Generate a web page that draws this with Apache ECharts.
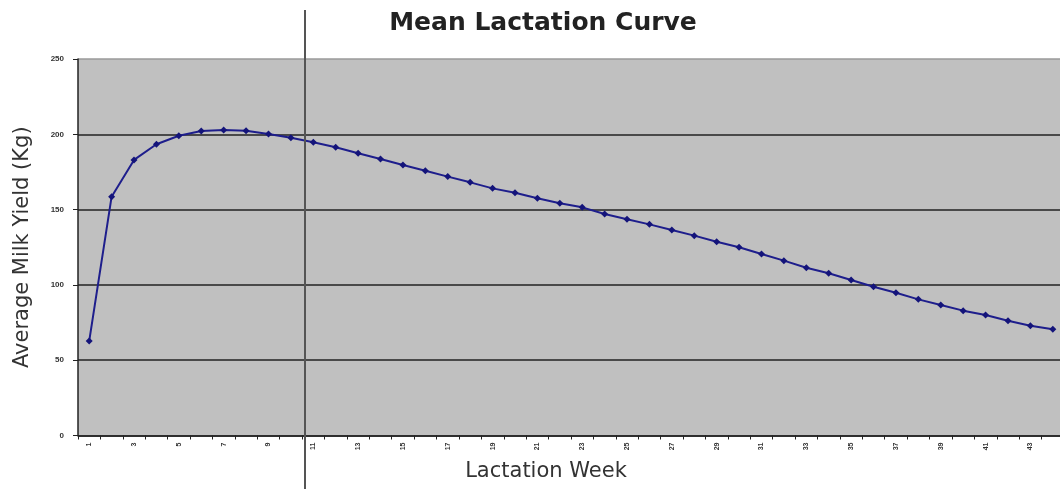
<!DOCTYPE html>
<html>
<head>
<meta charset="utf-8">
<script src="https://cdn.jsdelivr.net/npm/echarts@6/dist/echarts.min.js"></script>
<style>
  html, body { margin: 0; padding: 0; background: #fff; }
  #chart { width: 1060px; height: 489px; }
</style>
</head>
<body>
<div id="chart"></div>
<script>
// lactation weeks 1..44
var weeks = [];
for (var w = 1; w <= 44; w++) weeks.push(String(w));

// mean milk yield per week (Kg)
var milkYield = [
  62.7, 158.6, 183.0, 193.4, 199.0, 202.2, 202.9, 202.4, 200.2, 197.7,
  194.7, 191.4, 187.4, 183.6, 179.6, 175.8, 171.9, 168.1, 164.1, 161.2,
  157.5, 154.2, 151.5, 147.1, 143.6, 140.2, 136.5, 132.7, 128.7, 125.0,
  120.5, 116.1, 111.4, 107.7, 103.3, 98.8, 94.8, 90.4, 86.7, 82.9,
  80.0, 76.2, 72.9, 70.5
];

var yTicks = [0, 50, 100, 150, 200, 250];

var chart = echarts.init(document.getElementById('chart'));

var option = {
  animation: false,
  title: {
    text: 'Mean Lactation Curve',
    left: 538,
    top: 6,
    textAlign: 'center',
    textStyle: { fontFamily: 'DejaVu Sans', fontWeight: 'bold', fontSize: 25, color: '#222' }
  },
  grid: {
    left: 78, right: -4, top: 59, bottom: 53.5,
    outerBoundsMode: 'none',
    containLabel: false,
    show: true,
    backgroundColor: '#c0c0c0',
    borderWidth: 0
  },
  xAxis: {
    type: 'category',
    data: weeks,
    boundaryGap: true,
    name: 'Lactation Week',
    nameLocation: 'middle',
    nameGap: 26,
    nameTextStyle: { fontFamily: 'DejaVu Sans', fontSize: 21, color: '#333', padding: [0, 0, 0, -50] },
    axisLine: { lineStyle: { color: '#222', width: 1.5 } },
    axisTick: { show: true, length: 4, interval: 0, lineStyle: { color: '#222' } },
    axisLabel: {
      interval: 1,
      rotate: 90,
      fontSize: 7,
      fontWeight: 'bold',
      color: '#333',
      margin: 7
    },
    splitLine: { show: false }
  },
  yAxis: {
    type: 'value',
    min: yTicks[0],
    max: yTicks[yTicks.length - 1],
    interval: 50,
    name: 'Average Milk Yield (Kg)',
    nameLocation: 'middle',
    nameGap: 45,
    nameTextStyle: { fontFamily: 'DejaVu Sans', fontSize: 21, color: '#333' },
    axisLine: { show: true, lineStyle: { color: '#222', width: 1.5 } },
    axisTick: { show: true, length: 5, lineStyle: { color: '#222' } },
    axisLabel: { fontSize: 8, fontWeight: 'bold', color: '#333', margin: 14 },
    splitLine: {
      show: true,
      lineStyle: { color: ['#222', '#222', '#222', '#222', '#222', '#9a9a9a'], width: 1.5 }
    }
  },
  series: [
    {
      name: 'Milk Yield',
      type: 'line',
      data: milkYield,
      symbol: 'diamond',
      symbolSize: 7,
      itemStyle: { color: '#14147a' },
      lineStyle: { color: '#1e1e8c', width: 2 }
    }
  ]
};

chart.setOption(option);

// stray vertical rule that crosses the figure between weeks 10 and 11
var xa = chart.convertToPixel({ xAxisIndex: 0 }, weeks[9]);
var xb = chart.convertToPixel({ xAxisIndex: 0 }, weeks[10]);
var xr = Math.round((xa + xb) / 2) + 3;
chart.setOption({
  graphic: [{
    type: 'line',
    z: 100,
    shape: { x1: xr, y1: 10, x2: xr, y2: 489 },
    style: { stroke: '#555', lineWidth: 2 }
  }]
});
</script>
</body>
</html>
